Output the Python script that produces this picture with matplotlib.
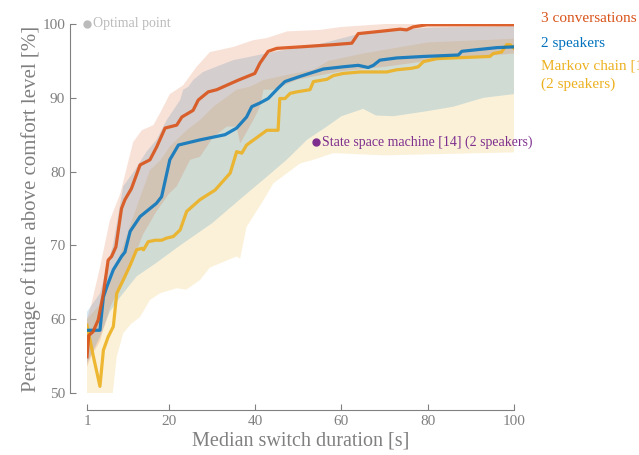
import numpy as np
from matplotlib import pyplot as plt

plt.rcParams['font.family'] = 'serif'
plt.rcParams['font.serif'] = ['Liberation Serif', 'DejaVu Serif']

# median lines
ox = [1, 1.4, 2.4, 3.6, 4.8, 5.9, 6.7, 7.7, 9.0, 9.8, 11.3, 13.3, 15.6, 17.2, 19.1, 21.8, 23.0, 25.6, 26.8, 29.1,
      31.1, 33.4, 36.1, 39.9, 41.1, 43.0, 45.0, 50.4, 58.1, 62.4, 63.9, 68.9, 73.6, 75.1, 76.6, 79.8, 100]
oy = [54.9, 57.8, 58.3, 59.9, 63.5, 68.0, 68.5, 69.8, 75.0, 76.2, 77.7, 80.9, 81.6, 83.4, 85.9, 86.3, 87.4, 88.3, 89.7, 90.8,
      91.1, 91.7, 92.4, 93.3, 94.7, 96.3, 96.7, 96.9, 97.2, 97.4, 98.7, 99.0, 99.3, 99.2, 99.6, 99.9, 99.9]

bx = [1, 4.0, 4.8, 5.6, 7.1, 9.0, 9.8, 11.0, 13.3, 17.1, 18.3, 20.2, 22.2, 27.2, 33.0, 35.7, 38.0, 39.2, 41.1, 43.0,
      45.3, 46.9, 50.4, 55.8, 60.4, 63.9, 66.2, 67.4, 68.9, 72.8, 79.0, 87.1, 87.9, 94.4, 96.0, 100]
by = [58.5, 58.5, 63.0, 64.4, 66.7, 68.5, 69.1, 71.9, 73.9, 75.7, 76.6, 81.6, 83.6, 84.3, 85.0, 85.9, 87.4, 88.8, 89.3, 89.9,
      91.3, 92.2, 92.9, 93.9, 94.2, 94.4, 94.1, 94.4, 95.1, 95.4, 95.6, 95.8, 96.3, 96.7, 96.8, 96.9]

yx = [1.0, 2.5, 4.0, 4.8, 5.9, 7.1, 7.9, 9.4, 11.0, 12.5, 13.7, 14.1, 15.2, 16.8, 18.3, 19.5, 21.0, 22.6, 24.1, 27.2,
      30.7, 34.2, 35.7, 36.9, 38.0, 42.7, 45.3, 45.7, 46.9, 48.1, 49.6, 52.7, 53.5, 56.6, 58.1, 60.4, 64.3, 70.5, 72.8, 76.3,
      77.8, 79.0, 82.1, 85.9, 94.4, 95.2, 97.1, 98.3, 99.1, 100]
yy = [59.2, 54.9, 50.9, 55.8, 57.6, 59.0, 63.5, 65.3, 67.3, 69.4, 69.6, 69.4, 70.5, 70.7, 70.7, 71.0, 71.2, 72.1, 74.6, 76.2,
      77.5, 79.8, 82.7, 82.5, 83.6, 85.6, 85.6, 89.9, 89.9, 90.6, 90.8, 91.1, 92.2, 92.5, 93.0, 93.3, 93.5, 93.5, 93.8, 94.0,
      94.2, 94.9, 95.3, 95.4, 95.6, 96.0, 96.2, 97.2, 97.2, 96.7]

# spread bands (upper / lower edges)
o_hi_x = [1, 2, 4, 6.3, 8.7, 11.7, 13.7, 16.4, 18, 20.2, 23.3, 26.4, 29.5, 35, 39.5, 42.7, 47.4, 55, 60, 70, 100]
o_hi_y = [60, 62, 67, 73.4, 77, 84, 85.6, 86.3, 88, 90.5, 91.7, 94.2, 96.2, 96.9, 97.8, 98.1, 99.0, 99.2, 99.6, 100, 100]
o_lo_x = [1, 2, 4, 6.3, 8.7, 11.7, 14, 17, 20, 21.8, 24.9, 27.2, 30.3, 33.4, 35.7, 36.5, 39.6, 41.1, 41.9, 44.2,
          50, 60, 70, 80, 90, 100]
o_lo_y = [53.5, 55, 57, 61.5, 64.5, 68, 71.5, 74.5, 77, 78, 81.6, 82, 84.7, 86.1, 86.1, 83.8, 87, 88.8, 91.1, 91.1,
          92.5, 93.6, 94.2, 95, 95.5, 96]

b_hi_x = [1, 4, 7, 9.4, 12.1, 14.8, 17.1, 19.5, 22.6, 23.3, 24.5, 25.6, 27.9, 31.8, 34.9, 45, 55, 65, 80, 100]
b_hi_y = [61, 63.5, 70, 78, 80.2, 82.7, 84.3, 87, 89.7, 91.1, 91.5, 92.4, 93.5, 94.4, 95.1, 96.3, 97.3, 98.8, 99.5, 99.7]
b_lo_x = [1, 4, 6.3, 8.7, 12.5, 17, 22.6, 30, 37, 42.7, 47.3, 52, 56.6, 60, 65, 68, 72, 80, 86, 90, 93, 100]
b_lo_y = [54, 57.6, 61, 63, 65.8, 67.6, 70, 73, 76.5, 79.3, 81.6, 84.3, 86.1, 87.5, 88.5, 87.6, 87.5, 88.2, 88.8, 89.5,
          90.0, 90.5]

y_hi_x = [1, 4, 7, 10, 13, 15.6, 18, 20.2, 24.1, 27.2, 30.3, 33.4, 35.7, 38.8, 41.9, 47.3, 53.5, 57, 65, 80, 100]
y_hi_y = [60, 62, 66, 71, 76, 80.2, 81.5, 83.4, 85.6, 87, 88.8, 90.1, 91.1, 91.5, 92.4, 93.1, 93.8, 95, 96, 97.5, 98]
y_lo_x = [1, 6.7, 7.9, 9.4, 11.3, 13.3, 15.6, 17.9, 21.8, 24, 27.2, 29.5, 35.7, 36.5, 38, 42, 44.2, 50.4, 53.5, 58.1,
          70, 100]
y_lo_y = [48, 48.5, 54.9, 58.1, 59.4, 60.3, 62.6, 63.5, 64.2, 64.0, 65.3, 67.0, 68.5, 68.2, 72.5, 76.2, 78.4, 81.1, 81.6, 82.5,
          82.2, 82.6]

ssm_x, ssm_y = 54.1, 84.0
opt_x, opt_y = 1, 100

c_orange = '#D95319'
c_blue = '#0072BD'
c_yellow = '#EDB120'
c_purple = '#7E2F8E'
c_gray = '#808080'


def band(ax, xh, yh, xl, yl, col):
  px = list(xh) + list(xl)[::-1]
  py = list(yh) + list(yl)[::-1]
  ax.fill(px, py, color=col, alpha=0.17, lw=0)


fig = plt.figure(figsize=(6.39, 4.55), dpi=100)
ax = fig.add_axes([87 / 639, 1 - 393 / 455, 427 / 639, 369 / 455])

band(ax, y_hi_x, y_hi_y, y_lo_x, y_lo_y, c_yellow)
band(ax, b_hi_x, b_hi_y, b_lo_x, b_lo_y, c_blue)
band(ax, o_hi_x, o_hi_y, o_lo_x, o_lo_y, c_orange)

ax.plot(yx, yy, color=c_yellow, lw=2.3, alpha=0.9, solid_joinstyle='round')
ax.plot(bx, by, color=c_blue, lw=2.3, alpha=0.85, solid_joinstyle='round')
ax.plot(ox, oy, color=c_orange, lw=2.3, alpha=0.9, solid_joinstyle='round')

ax.plot([opt_x], [opt_y], 'o', color='#bbbbbb', ms=5, clip_on=False)
ax.text(opt_x + 1.5, opt_y, 'Optimal point', color='#bbbbbb', fontsize=10, va='center')
ax.plot([ssm_x], [ssm_y], 'o', color=c_purple, ms=5)
ax.text(ssm_x + 1.4, ssm_y, 'State space machine [14] (2 speakers)', color=c_purple, fontsize=10, va='center')

ax.text(106.3, 100.7, '3 conversations', color=c_orange, fontsize=11, va='center', clip_on=False)
ax.text(106.3, 97.4, '2 speakers', color=c_blue, fontsize=11, va='center', clip_on=False)
ax.text(106.3, 95.2, 'Markov chain [15]\n(2 speakers)', color=c_yellow, fontsize=11, va='top',
        linespacing=1.45, clip_on=False)

ax.set_xlim(1, 100)
ax.set_ylim(50, 100)
ax.set_xticks([1, 20, 40, 60, 80, 100])
ax.set_yticks([50, 60, 70, 80, 90, 100])
for s in ['top', 'right']:
  ax.spines[s].set_visible(False)
for s in ['left', 'bottom']:
  ax.spines[s].set_position(('outward', 12.2))
  ax.spines[s].set_color(c_gray)
ax.tick_params(colors=c_gray, labelsize=11, direction='in', length=4)
ax.set_xlabel('Median switch duration [s]', color=c_gray, fontsize=14.5, labelpad=3)
ax.set_ylabel('Percentage of time above comfort level [%]', color=c_gray, fontsize=15, labelpad=1)

fig.savefig('out.png', dpi=100)
